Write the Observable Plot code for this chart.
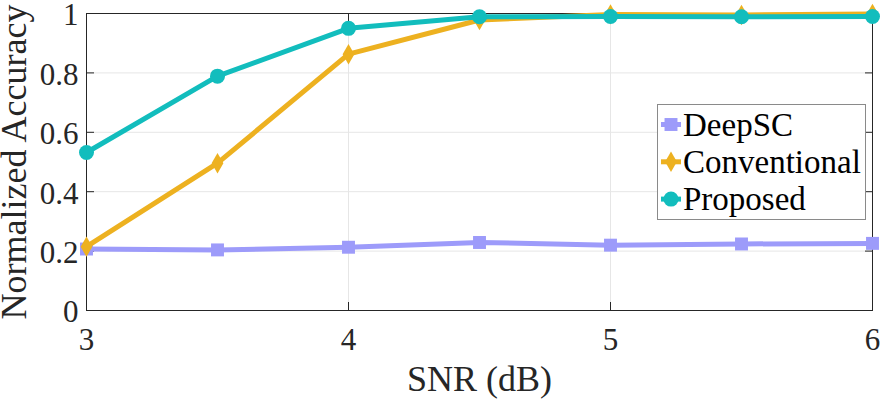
<!DOCTYPE html>
<html><head><meta charset="utf-8">
<script src="https://cdn.jsdelivr.net/npm/d3@7"></script>
<script src="https://cdn.jsdelivr.net/npm/@observablehq/plot@0.6"></script>
<style>
body{margin:0;background:#fff;font-family:'Liberation Serif',serif;}
#wrap{position:relative;width:880px;height:399px;overflow:hidden;}
#legend{position:absolute;left:657px;top:104px;width:209px;height:116px;box-sizing:border-box;border:1px solid #8a8a8a;background:#fff;}
#legend svg{display:block;}
#pre{position:absolute;left:-2000px;top:0;font-family:'Liberation Serif';font-size:30px;}
</style></head><body>
<div id="pre">0.8 Normalized Accuracy SNR (dB) DeepSC Conventional Proposed</div>
<div id="wrap"></div>
<script>
const snr = [3, 3.5, 4, 4.5, 5, 5.5, 6];
const deepsc = [0.207, 0.204, 0.213, 0.229, 0.220, 0.224, 0.226];
const conventional = [0.215, 0.496, 0.863, 0.978, 0.997, 0.995, 0.998];
const proposed = [0.532, 0.789, 0.950, 0.989, 0.990, 0.989, 0.990];
const seriesNames = ["DeepSC", "Conventional", "Proposed"];
const seriesColors = ["#9d9bfa", "#edb120", "#12bdbd"];
const seriesSymbols = ["square", "diamond", "circle"];
const seriesR = [7.3, 6.2, 7.5];
const xTicks = [3, 4, 5, 6];
const yTicks = [0, 0.2, 0.4, 0.6, 0.8, 1];
const xLabel = "SNR (dB)";
const yLabel = "Normalized Accuracy";

const values = [deepsc, conventional, proposed];
const rows = seriesNames.flatMap((s, i) => snr.map((x, j) => ({snr: x, acc: values[i][j], series: s})));

const FF = "Liberation Serif";

function draw() {
  const seriesMarks = seriesNames.flatMap((s, i) => {
    const d = rows.filter(r => r.series === s);
    return [
      Plot.line(d, {x: "snr", y: "acc", stroke: seriesColors[i], strokeWidth: 5}),
      Plot.dot(d, {x: "snr", y: "acc", fill: seriesColors[i], stroke: "none", symbol: () => seriesSymbols[i], r: seriesR[i]})
    ];
  });

  const chart = Plot.plot({
    width: 880, height: 399,
    marginLeft: 86, marginRight: 8, marginTop: 13, marginBottom: 89,
    style: {fontFamily: FF, color: "#262626", background: "#fff", overflow: "visible"},
    x: {domain: [3, 6]},
    y: {domain: [0, 1]},
    marks: [
      Plot.gridX({ticks: [4, 5], stroke: "#e6e6e6", strokeOpacity: 1}),
      Plot.gridY({ticks: [0.2, 0.4, 0.6, 0.8], stroke: "#e6e6e6", strokeOpacity: 1}),
      Plot.frame({stroke: "#262626", strokeWidth: 1}),
      Plot.axisX({ticks: xTicks, tickSize: 0, tickPadding: 17, fontSize: 31, fontFamily: FF, label: null, tickFormat: d => String(d)}),
      Plot.axisX({ticks: xTicks, tickSize: -8, tickFormat: () => "", label: null}),
      Plot.axisX({ticks: xTicks, anchor: "top", tickSize: -8, tickFormat: () => "", label: null}),
      Plot.axisY({ticks: yTicks, tickSize: 0, tickPadding: 8, fontSize: 31, fontFamily: FF, dy: 2, label: null, tickFormat: d => String(d)}),
      Plot.axisY({ticks: yTicks, tickSize: -8, tickFormat: () => "", label: null}),
      Plot.axisY({ticks: yTicks, anchor: "right", tickSize: -8, tickFormat: () => "", label: null}),
      Plot.text([xLabel], {frameAnchor: "bottom", textAnchor: "middle", dy: 80, lineAnchor: "bottom", fontSize: 36, fontFamily: FF, fill: "#262626", text: d => d}),
      Plot.text([yLabel], {frameAnchor: "left", textAnchor: "middle", dx: -61, rotate: -90, lineAnchor: "bottom", fontSize: 36, fontFamily: FF, fill: "#262626", text: d => d}),
      ...seriesMarks
    ]
  });
  const wrap = document.getElementById("wrap");
  wrap.appendChild(chart);

  const leg = document.createElement("div");
  leg.id = "legend";
  wrap.appendChild(leg);
  const svg = d3.select(leg).append("svg").attr("width", 207).attr("height", 114);
  const symMap = {square: d3.symbolSquare, diamond: d3.symbolDiamond, circle: d3.symbolCircle};
  seriesNames.forEach((s, i) => {
    const cy = 19.5 + i * 37.3;
    const g = svg.append("g").attr("transform", `translate(0,${cy})`);
    g.append("line").attr("x1", 3).attr("x2", 23).attr("y1", 0).attr("y2", 0)
      .attr("stroke", seriesColors[i]).attr("stroke-width", 5);
    g.append("path").attr("transform", "translate(13,0)")
      .attr("d", d3.symbol(symMap[seriesSymbols[i]], Math.PI * seriesR[i] * seriesR[i])())
      .attr("fill", seriesColors[i]);
    g.append("text").attr("x", 25).attr("y", 11).attr("font-family", FF)
      .attr("font-size", 33).attr("fill", "#000").text(s);
  });
}

if (document.fonts && document.fonts.load) {
  document.fonts.load("31px 'Liberation Serif'").then(draw, draw);
} else {
  draw();
}
</script></body></html>
